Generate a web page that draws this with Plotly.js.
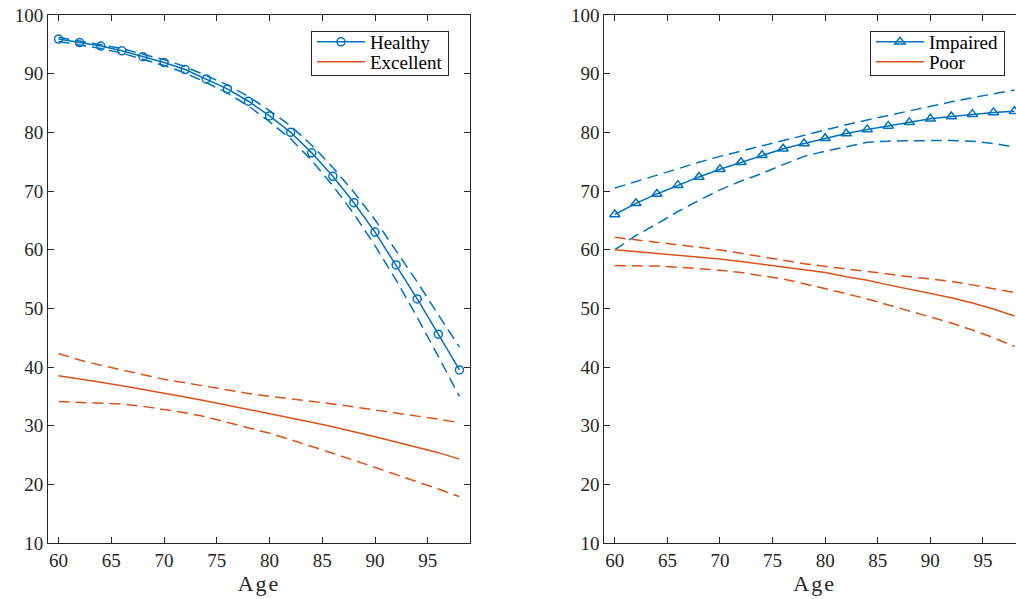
<!DOCTYPE html>
<html>
<head>
<meta charset="utf-8">
<script src="https://cdn.plot.ly/plotly-3.0.1.min.js"></script>
<style>
  html, body { margin: 0; padding: 0; overflow: hidden; background: #fff; }
  #chart { width: 1026px; height: 599px; }
  .g-xtitle text, .g-x2title text { letter-spacing: 2px; }
</style>
</head>
<body>
<div id="chart"></div>
<script>
// Ages (every 2 years)
const ages = [60, 62, 64, 66, 68, 70, 72, 74, 76, 78, 80, 82, 84, 86, 88, 90, 92, 94, 96, 98];

// Left panel
const healthy      = [95.9, 95.3, 94.7, 93.9, 92.9, 91.9, 90.7, 89.1, 87.4, 85.3, 82.8, 80.0, 76.5, 72.5, 68.0, 63.0, 57.4, 51.6, 45.6, 39.5];
const healthyUpper = [96.2, 95.6, 95.0, 94.3, 93.3, 92.4, 91.2, 89.7, 88.1, 86.1, 83.7, 81.1, 77.8, 74.0, 69.8, 65.1, 59.9, 54.5, 48.9, 43.4];
const healthyLower = [95.5, 94.9, 94.3, 93.5, 92.4, 91.4, 90.1, 88.5, 86.7, 84.5, 81.8, 78.9, 75.2, 70.9, 66.1, 60.7, 54.8, 48.5, 41.8, 35.0];

const excellent      = [38.5, 38.0, 37.4, 36.8, 36.2, 35.6, 34.9, 34.2, 33.5, 32.8, 32.1, 31.4, 30.6, 29.8, 29.0, 28.1, 27.2, 26.3, 25.4, 24.3];
const excellentUpper = [42.3, 41.2, 40.3, 39.5, 38.7, 37.9, 37.3, 36.7, 36.0, 35.5, 35.0, 34.6, 34.1, 33.7, 33.2, 32.7, 32.2, 31.6, 31.1, 30.5];
const excellentLower = [34.1, 34.0, 33.9, 33.7, 33.3, 32.8, 32.2, 31.5, 30.6, 29.7, 28.7, 27.6, 26.5, 25.3, 24.1, 22.9, 21.7, 20.5, 19.2, 17.9];

// Right panel
const impaired      = [66.0, 67.9, 69.5, 71.0, 72.4, 73.7, 74.9, 76.1, 77.2, 78.1, 79.0, 79.8, 80.5, 81.1, 81.7, 82.3, 82.7, 83.1, 83.4, 83.6];
const impairedUpper = [70.5, 71.6, 72.7, 73.9, 74.9, 75.9, 76.8, 77.8, 78.7, 79.6, 80.4, 81.3, 82.1, 82.9, 83.7, 84.5, 85.2, 85.9, 86.5, 87.2];
const impairedLower = [60.0, 62.4, 64.4, 66.5, 68.4, 70.2, 71.7, 73.0, 74.5, 75.9, 76.8, 77.6, 78.3, 78.5, 78.6, 78.6, 78.6, 78.5, 78.1, 77.5];

const poor      = [60.0, 59.7, 59.4, 59.0, 58.7, 58.4, 58.0, 57.5, 57.0, 56.6, 56.1, 55.4, 54.8, 54.0, 53.3, 52.6, 51.8, 50.9, 49.9, 48.7];
const poorUpper = [62.1, 61.7, 61.2, 60.8, 60.4, 59.95, 59.4, 58.8, 58.2, 57.6, 57.1, 56.7, 56.3, 55.8, 55.4, 55.0, 54.6, 54.0, 53.4, 52.7];
const poorLower = [57.3, 57.3, 57.2, 57.0, 56.8, 56.5, 56.1, 55.6, 55.0, 54.2, 53.4, 52.5, 51.6, 50.6, 49.6, 48.6, 47.5, 46.3, 45.0, 43.5];

const xTickVals = [60, 65, 70, 75, 80, 85, 90, 95];
const yTickVals = [10, 20, 30, 40, 50, 60, 70, 80, 90, 100];

const BLUE = '#0072BD';
const ORANGE = '#D95319';
const INK = '#262626';
const DASH = '11px,6px';
const SERIF = 'Liberation Serif, Times New Roman, serif';

function line(x, y, color, xa, ya, opts) {
  return Object.assign({
    x: x, y: y, xaxis: xa, yaxis: ya, type: 'scatter', mode: 'lines',
    line: { color: color, width: 1.5 }, showlegend: false, hoverinfo: 'skip'
  }, opts || {});
}

const traces = [
  line(ages, healthyUpper, BLUE, 'x', 'y', { line: { color: BLUE, width: 1.5, dash: DASH } }),
  line(ages, healthyLower, BLUE, 'x', 'y', { line: { color: BLUE, width: 1.5, dash: DASH } }),
  line(ages, excellentUpper, ORANGE, 'x', 'y', { line: { color: ORANGE, width: 1.5, dash: DASH } }),
  line(ages, excellentLower, ORANGE, 'x', 'y', { line: { color: ORANGE, width: 1.5, dash: DASH } }),
  line(ages, healthy, BLUE, 'x', 'y', {
    name: 'Healthy', showlegend: true, legend: 'legend', mode: 'lines+markers',
    marker: { symbol: 'circle-open', size: 8, color: BLUE, line: { width: 1.5, color: BLUE } }
  }),
  line(ages, excellent, ORANGE, 'x', 'y', { name: 'Excellent', showlegend: true, legend: 'legend' }),

  line(ages, impairedUpper, BLUE, 'x2', 'y2', { line: { color: BLUE, width: 1.5, dash: DASH } }),
  line(ages, impairedLower, BLUE, 'x2', 'y2', { line: { color: BLUE, width: 1.5, dash: DASH } }),
  line(ages, poorUpper, ORANGE, 'x2', 'y2', { line: { color: ORANGE, width: 1.5, dash: DASH } }),
  line(ages, poorLower, ORANGE, 'x2', 'y2', { line: { color: ORANGE, width: 1.5, dash: DASH } }),
  line(ages, impaired, BLUE, 'x2', 'y2', {
    name: 'Impaired', showlegend: true, legend: 'legend2', mode: 'lines+markers',
    marker: { symbol: 'triangle-up-open', size: 9, color: BLUE, line: { width: 1.5, color: BLUE } }
  }),
  line(ages, poor, ORANGE, 'x2', 'y2', { name: 'Poor', showlegend: true, legend: 'legend2' })
];

const tickFont = { family: SERIF, size: 19, color: INK };

function xAxis(domain, anchor) {
  return {
    domain: domain, anchor: anchor, range: [59, 99], tickvals: xTickVals,
    ticks: 'inside', ticklen: 6, tickwidth: 1, tickcolor: INK,
    showline: true, linecolor: INK, linewidth: 1, mirror: 'ticks',
    showgrid: false, zeroline: false, tickfont: tickFont,
    title: { text: 'Age', font: { family: SERIF, size: 22, color: INK }, standoff: 0 }
  };
}
function yAxis(anchor) {
  return {
    domain: [0, 1], anchor: anchor, range: [10, 100], tickvals: yTickVals,
    ticks: 'inside', ticklen: 6, tickwidth: 1, tickcolor: INK,
    showline: true, linecolor: INK, linewidth: 1, mirror: 'ticks',
    showgrid: false, zeroline: false, tickfont: tickFont
  };
}

const legendFont = { family: SERIF, size: 19, color: '#000' };

const layout = {
  width: 1026, height: 599,
  margin: { l: 48, r: 1, t: 15, b: 56 },
  paper_bgcolor: '#fff', plot_bgcolor: '#fff',
  showlegend: true,
  xaxis: xAxis([0, 0.4319], 'y'),
  yaxis: yAxis('x'),
  xaxis2: xAxis([0.5694, 1], 'y2'),
  yaxis2: yAxis('x2'),
  legend: {
    x: 0.4104, xanchor: 'right', y: 0.97, yanchor: 'top',
    bgcolor: '#fff', bordercolor: INK, borderwidth: 1, font: legendFont,
    tracegroupgap: 0, itemwidth: 48
  },
  legend2: {
    x: 0.9795, xanchor: 'right', y: 0.97, yanchor: 'top',
    bgcolor: '#fff', bordercolor: INK, borderwidth: 1, font: legendFont,
    tracegroupgap: 0, itemwidth: 48
  }
};

Plotly.newPlot('chart', traces, layout, { displayModeBar: false, staticPlot: true }).then(function (gd) {
  // tighten legend row spacing to match the reference (rows ~20px apart, box ~44px tall)
  ['legend', 'legend2'].forEach(function (cls) {
    const g = gd.querySelector('g.' + cls);
    if (!g) return;
    const items = Array.prototype.slice.call(g.querySelectorAll('g.traces'));
    const rowH = 20, firstRow = 11, boxH = 44;
    items.forEach(function (it, i) {
      const m = /translate\(\s*([-\d.e]+)[ ,]+([-\d.e]+)\s*\)/.exec(it.getAttribute('transform') || '');
      const x = m ? parseFloat(m[1]) : 1;
      it.setAttribute('transform', 'translate(' + x + ',' + (firstRow + rowH * i) + ')');
    });
    const bg = g.querySelector('rect.bg');
    if (bg) bg.setAttribute('height', boxH);
  });
});
</script>
</body>
</html>
